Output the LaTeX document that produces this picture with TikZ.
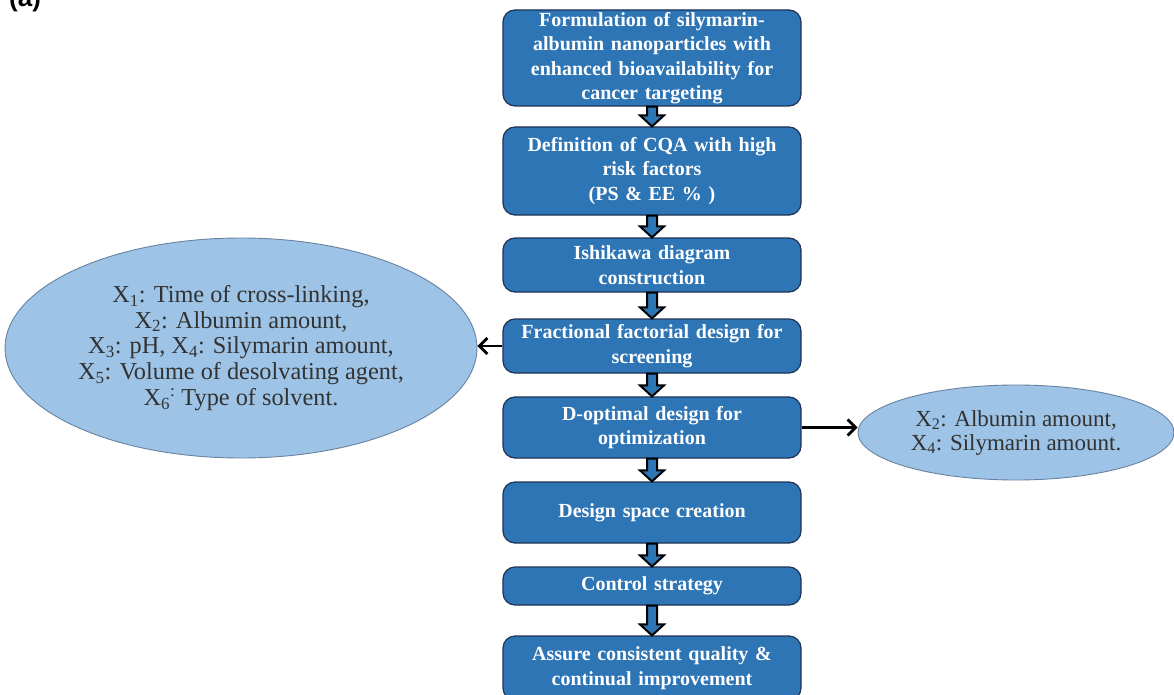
\documentclass[tikz,border=0pt]{standalone}
\usepackage{fontspec}
\setmainfont{Liberation Serif}
\newfontfamily\headfont{Liberation Sans}
\usetikzlibrary{calc,arrows.meta,shapes.geometric}
\definecolor{boxblue}{RGB}{46,117,182}
\definecolor{boxedge}{RGB}{30,50,85}
\definecolor{ellfill}{RGB}{157,195,230}
\definecolor{elledge}{RGB}{105,130,160}
\definecolor{elltext}{RGB}{50,50,50}
\newcommand\blockarrow[2]{%
  \draw[blockarr] let \p1=(#1.south), \p2=(#2.north) in
    (\x1-5pt,\y1) -- (\x1-5pt,\y2+11pt) -- (\x1-12pt,\y2+11pt) -- (\x2,\y2)
    -- (\x1+12pt,\y2+11pt) -- (\x1+5pt,\y2+11pt) -- (\x1+5pt,\y1) -- cycle;}
\begin{document}
\begin{tikzpicture}[x=1pt,y=-1pt,
  stepbox/.style={draw=boxedge, line width=1.2pt, fill=boxblue, rounded corners=12pt,
    minimum width=298pt, text width=292pt, inner sep=0pt, align=center, text=white,
    font=\fontsize{20}{24.5}\selectfont\bfseries},
  ell/.style={ellipse, draw=elledge, line width=0.9pt, fill=ellfill, inner sep=0pt,
    align=center, text=elltext},
  blockarr/.style={draw=black, line width=2pt, fill=boxblue, line join=miter},
  sidearr/.style={draw=black, line width=2.8pt, -{Straight Barb[length=8pt,width=16pt]}}
]
\useasboundingbox (0,0) rectangle (1174,695);

\node[anchor=base west, inner sep=0pt, font=\headfont\bfseries\fontsize{26}{30}\selectfont] (lbl) at (9,7) {(a)};

\node[stepbox, minimum height=96pt] (b1) at (652,58)
  {Formulation of silymarin-\\albumin nanoparticles with\\enhanced bioavailability for\\cancer targeting};
\node[stepbox, minimum height=88pt] (b2) at (652,171)
  {Definition of CQA with high\\risk factors\\(PS \& EE \% )};
\node[stepbox, minimum height=54pt] (b3) at (652,265)
  {Ishikawa diagram\\construction};
\node[stepbox, minimum height=54pt] (b4) at (652,346)
  {Fractional factorial design for\\screening};
\node[stepbox, minimum height=61pt] (b5) at (652,427.5)
  {D-optimal design for\\optimization};
\node[stepbox, minimum height=61pt] (b6) at (652,512.5)
  {Design space creation};
\node[stepbox, minimum height=38pt] (b7) at (652,586)
  {Control strategy};
\node[stepbox, minimum height=64pt] (b8) at (652,668)
  {Assure consistent quality \&\\continual improvement};

\blockarrow{b1}{b2}
\blockarrow{b2}{b3}
\blockarrow{b3}{b4}
\blockarrow{b4}{b5}
\blockarrow{b5}{b6}
\blockarrow{b6}{b7}
\blockarrow{b7}{b8}

\node[ell, minimum width=472pt, minimum height=220pt,
  font=\fontsize{24.3}{25.8}\selectfont] (e1) at (241,348)
  {X\textsubscript{1}: Time of cross-linking,\\
   X\textsubscript{2}: Albumin amount,\\
   X\textsubscript{3}: pH, X\textsubscript{4}: Silymarin amount,\\
   X\textsubscript{5}: Volume of desolvating agent,\\
   X\textsubscript{6}\textsuperscript{:} Type of solvent.};
\node[ell, minimum width=316pt, minimum height=95pt,
  font=\fontsize{23}{24}\selectfont] (e2) at (1016,432.5)
  {X\textsubscript{2}: Albumin amount,\\
   X\textsubscript{4}: Silymarin amount.};

\draw[sidearr] (b4.west) -- (b4.west -| e1.east);
\draw[sidearr] (b5.east) -- (b5.east -| e2.west);
\end{tikzpicture}
\end{document}
